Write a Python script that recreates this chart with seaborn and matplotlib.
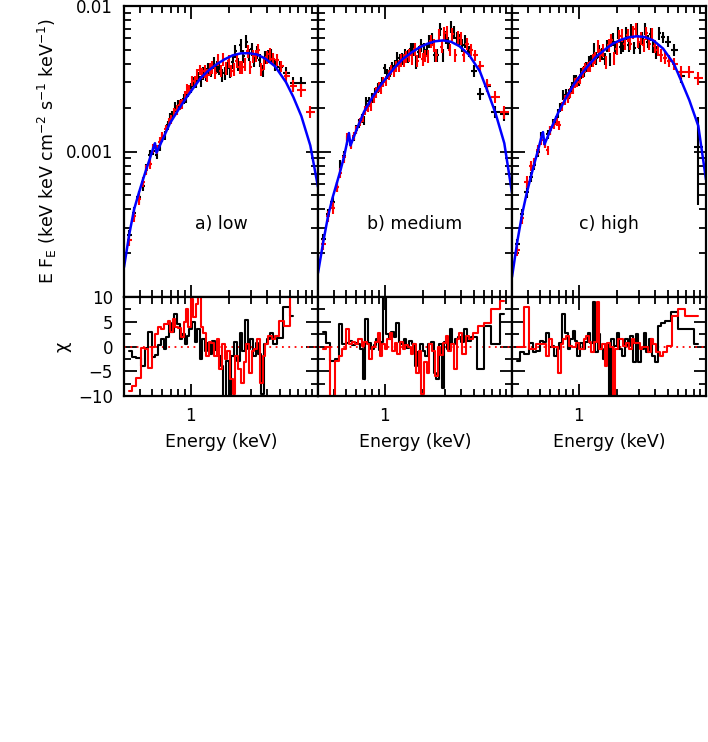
import numpy as np
import pandas as pd
import matplotlib
matplotlib.use("Agg")
import matplotlib.pyplot as plt
import seaborn as sns
from matplotlib.ticker import FixedLocator, NullFormatter

nan = np.nan

# channel energies (keV) of the black and red spectra
energy_black = [0.33, 0.36, 0.39, 0.42, 0.45, 0.48, 0.51, 0.54, 0.57, 0.60,
                0.63, 0.66, 0.69, 0.72, 0.76, 0.80, 0.84, 0.88, 0.92, 0.96,
                1.00, 1.05, 1.10, 1.15, 1.20, 1.26, 1.32, 1.38, 1.45, 1.52,
                1.60, 1.68, 1.76, 1.85, 1.94, 2.04, 2.14, 2.25, 2.36, 2.48,
                2.60, 2.73, 2.87, 3.01, 3.16, 3.32, 3.49, 3.67, 3.86, 4.06,
                4.30, 4.60, 5.00, 5.60, 6.40, 7.40, 8.70]
energy_red = [0.33, 0.36, 0.39, 0.42, 0.45, 0.48, 0.51, 0.54, 0.57, 0.60,
              0.645, 0.675, 0.705, 0.74, 0.78, 0.82, 0.86, 0.90, 0.94, 0.98,
              1.025, 1.075, 1.125, 1.175, 1.23, 1.29, 1.35, 1.415, 1.485, 1.56,
              1.64, 1.72, 1.805, 1.895, 1.99, 2.09, 2.195, 2.305, 2.42, 2.54,
              2.665, 2.80, 2.94, 3.085, 3.24, 3.405, 3.58, 3.765, 3.96, 4.18,
              4.45, 4.80, 5.15, 5.60, 6.40, 7.40, 8.70]

# relative 1-sigma error on E F_E
rel_err = [0.09, 0.09, 0.09, 0.08, 0.08, 0.08, 0.07, 0.07, 0.07, 0.07,
           0.07, 0.07, 0.07, 0.07, 0.08, 0.08, 0.08, 0.08, 0.08, 0.08,
           0.08, 0.08, 0.08, 0.08, 0.09, 0.10, 0.10, 0.10, 0.10, 0.10,
           0.10, 0.10, 0.10, 0.10, 0.10, 0.10, 0.10, 0.10, 0.10, 0.10,
           0.10, 0.10, 0.10, 0.10, 0.10, 0.10, 0.10, 0.10, 0.10, 0.10,
           0.10, 0.09, 0.09, 0.09, 0.10, 0.10, 0.10]

# E F_E in units of 1e-3 keV cm^-2 s^-1 keV^-1
flux_a_black = [0.265, 0.38, 0.49, 0.58, 0.76, 0.95, 1.01, 0.95, 1.09, 1.24,
                1.30, 1.51, 1.72, 1.77, 2.03, 2.10, 2.12, 2.31, 2.35, 2.56,
                2.75, 3.00, 2.96, 3.26, 3.04, 3.46, 3.41, 3.66, 3.61, 4.07,
                3.83, 3.70, 3.35, 3.45, 3.75, 3.55, 4.13, 4.88, 4.00, 5.40,
                4.53, 5.70, 4.62, 5.07, 4.20, 4.82, 4.23, 3.60, 4.45, 4.53,
                4.60, 3.95, 3.83, 3.47, 2.95, 2.96, nan]
flux_a_red = [0.245, 0.36, 0.47, 0.62, 0.75, 0.82, 1.05, 1.03, 1.17, 1.28,
              1.43, 1.60, 1.66, 1.85, 1.94, 2.08, 2.14, 2.42, 2.68, 2.65,
              3.06, 3.06, 3.39, 3.66, 3.46, 3.55, 3.35, 3.67, 3.78, 3.48,
              4.28, 3.60, 4.30, 3.75, 4.18, 3.60, 3.66, 4.18, 3.80, 3.78,
              4.00, 4.88, 3.80, 4.50, 4.55, 5.00, 3.66, 4.06, 4.45, 4.65,
              4.35, 4.27, 3.86, 3.30, 2.83, 2.65, 1.88]
flux_b_black = [0.25, 0.37, 0.45, 0.57, 0.81, 0.93, 1.20, 1.13, 1.26, 1.42,
                1.57, 1.68, 1.63, 2.22, 2.21, 2.33, 2.52, 2.73, 2.77, 3.03,
                3.72, 3.44, 3.55, 3.84, 3.93, 4.38, 4.23, 4.34, 4.58, 4.53,
                5.03, 5.03, 4.10, 4.85, 5.40, 5.10, 4.95, 5.72, 5.93, 4.60,
                4.60, 6.90, 4.60, 6.08, 5.59, 7.20, 6.60, 6.00, 5.83, 5.37,
                5.75, 4.90, 3.60, 2.50, 2.84, 1.88, 1.80]
flux_b_red = [0.23, 0.36, 0.41, 0.57, 0.71, 0.91, 1.26, 1.11, 1.28, 1.41,
              1.60, 1.71, 1.92, 2.01, 2.07, 2.35, 2.55, 2.80, 2.71, 3.00,
              3.07, 3.38, 3.64, 3.55, 3.84, 3.88, 4.23, 4.26, 4.48, 4.60,
              4.40, 5.03, 4.20, 4.90, 4.30, 4.55, 4.50, 5.72, 5.38, 4.60,
              6.30, 5.26, 6.50, 6.60, 5.00, 6.40, 4.60, 6.10, 6.00, 4.60,
              5.50, 5.00, 4.60, 3.85, 2.87, 2.38, 1.87]
flux_c_black = [0.23, 0.37, 0.53, 0.67, 0.81, 1.00, 1.28, 1.14, 1.32, 1.40,
                1.56, 1.64, 1.82, 2.01, 2.45, 2.48, 2.50, 2.78, 3.09, 3.12,
                3.08, 3.45, 3.56, 3.84, 4.15, 4.21, 5.09, 4.39, 4.89, 4.70,
                4.35, 5.33, 4.30, 5.93, 5.20, 6.55, 5.20, 5.37, 6.50, 5.40,
                6.85, 5.18, 6.97, 5.18, 6.00, 6.97, 5.70, 6.40, 5.25, 4.80,
                6.50, 6.10, 5.70, 5.00, 3.30, nan, 1.08]
flux_c_red = [0.21, 0.35, 0.62, 0.80, 0.84, 1.03, 1.20, 1.13, 1.02, 1.40,
              1.54, 1.60, 1.52, 2.04, 2.27, 2.36, 2.52, 2.69, 2.95, 3.02,
              3.17, 3.50, 3.74, 3.84, 3.84, 4.22, 4.41, 5.30, 4.61, 4.95,
              4.10, 5.40, 5.80, 4.40, 5.10, 6.20, 6.30, 5.50, 6.30, 5.50,
              6.60, 6.90, 5.70, 6.00, 5.40, 6.50, 5.50, 6.40, 5.30, 5.00,
              4.60, 4.40, 4.20, 4.00, 3.54, 3.54, 3.20]

# residuals (chi)
resid_a_black = [-1.0, -2.2, -2.4, -4.0, -0.3, 3.0, -2.2, -1.8, 0.4, 1.5,
                 -0.5, 2.0, 4.8, 3.0, 6.5, 4.5, 1.5, 2.5, 0.5, 2.2,
                 3.5, 5.0, 1.0, 3.5, -2.5, 1.5, -1.0, 0.8, -1.5, 1.2,
                 -0.8, -2.0, -4.0, -11.0, -3.0, -11.0, -2.0, 1.0, -3.0, 2.8,
                 -1.0, 5.4, -0.5, 1.5, -2.0, 0.8, -1.5, -9.5, 0.5, 1.5,
                 2.7, 0.5, 1.8, 7.9, 6.2, nan, nan]
resid_a_red = [-9.0, -8.0, -6.3, -0.4, -0.5, -4.4, -0.2, 2.5, 4.0, 3.5,
               4.5, 5.2, 3.0, 5.5, 4.0, 3.8, 2.0, 5.0, 7.5, 4.0,
               9.6, 6.0, 8.5, 11.0, 4.0, 2.8, -1.9, 1.0, 0.8, -2.0,
               1.5, -4.6, 0.5, -2.6, -1.0, -6.6, -9.6, -2.0, -4.6, -7.3,
               -3.2, 0.5, -5.3, -1.0, -0.5, 1.5, -7.3, -1.9, 0.5, 2.2,
               1.5, 2.2, 5.2, 4.2, 11.0, nan, nan]
resid_b_black = [3.0, 0.8, -2.9, -2.5, 4.5, 0.5, 0.8, 1.2, 0.3, 0.8,
                 0.5, -0.5, -6.6, 5.5, 0.8, -0.5, 0.3, 1.5, -0.8, 1.0,
                 11.0, 2.5, 1.5, 3.0, 2.0, 4.8, 1.0, 0.5, 1.5, -0.3,
                 1.2, 0.5, -3.9, -1.2, 0.5, -1.0, -1.9, 0.5, 1.0, -5.3,
                 -6.6, 0.5, -8.3, 1.0, -0.5, 3.5, 0.5, 1.5, 2.0, 1.0,
                 3.5, 1.2, 2.0, -4.6, 4.2, 0.5, 6.5]
resid_b_red = [-0.5, 0.0, -11.0, -2.9, -1.9, -0.5, 3.5, 0.5, 1.0, 0.5,
               1.5, 0.2, 1.0, 0.5, -2.6, 0.0, 1.0, 2.8, -1.9, 0.5,
               -0.5, 1.5, 2.8, -1.0, 0.8, -1.5, 1.0, -0.5, 0.3, 0.0,
               -1.5, 0.5, -5.3, -1.0, -9.5, -3.2, -5.3, 0.5, -1.0, -6.0,
               0.0, -1.8, 0.8, 2.2, -1.0, 0.5, -4.6, 1.5, 2.8, -1.5,
               2.2, 1.5, 2.8, 4.2, 4.8, 7.5, 9.2]
resid_c_black = [-2.9, -1.2, -1.5, 0.8, -1.2, -1.0, 1.1, 1.0, 2.8, 0.0,
                 0.2, -1.9, -0.5, 0.8, 6.5, 2.8, -0.5, 1.5, 3.2, 1.2,
                 -1.9, 0.8, -0.5, 1.0, 2.8, 0.8, 8.9, -1.2, 2.5, -0.5,
                 -2.6, 0.5, -11.0, 1.5, 0.2, 2.8, -0.5, -1.9, 1.5, 0.2,
                 2.2, -3.2, 2.5, -3.2, -0.5, 2.8, -1.2, 1.5, -1.9, -3.2,
                 4.2, 4.8, 5.2, 6.9, 3.5, 3.5, 0.5]
resid_c_red = [0.0, 0.0, 7.9, -0.5, -0.5, 0.5, 0.5, 0.5, -1.9, 1.5,
               -0.2, -0.2, -5.3, 0.5, 1.5, 2.2, 0.2, 0.0, -0.2, 0.8,
               -0.5, -0.5, 1.5, 2.2, 1.0, -1.2, 1.0, 8.9, -0.5, 0.5,
               -3.9, 0.8, 0.0, -11.0, -0.5, 1.5, 1.5, 0.2, 0.8, -0.5,
               1.5, 0.8, 0.8, -0.5, -0.2, -0.2, -1.2, 1.5, 0.5, -1.2,
               -1.9, -1.2, 0.2, 6.2, 7.5, 6.2, 6.2]

# best-fit model (blue), E F_E in 1e-3 units
model_energy = [0.30, 0.33, 0.36, 0.39, 0.42, 0.45, 0.48, 0.51, 0.525, 0.54,
                0.60, 0.69, 0.80, 0.92, 1.05, 1.20, 1.38, 1.60, 1.85, 2.14,
                2.48, 2.87, 3.32, 3.86, 4.60, 5.60, 6.40, 7.40, 8.70, 10.0]
model_a = [0.16, 0.27, 0.40, 0.51, 0.63, 0.76, 0.90, 1.06, 1.14, 0.98,
           1.20, 1.57, 1.93, 2.33, 2.73, 3.20, 3.60, 3.98, 4.30, 4.58,
           4.73, 4.74, 4.64, 4.35, 3.85, 3.00, 2.37, 1.75, 1.10, 0.57]
model_b = [0.146, 0.24, 0.36, 0.48, 0.60, 0.74, 0.92, 1.18, 1.34, 1.10,
           1.40, 1.88, 2.35, 2.82, 3.28, 3.78, 4.30, 4.75, 5.15, 5.48,
           5.72, 5.80, 5.68, 5.30, 4.62, 3.55, 2.62, 1.85, 1.14, 0.52]
model_c = [0.137, 0.24, 0.37, 0.51, 0.66, 0.83, 1.02, 1.25, 1.36, 1.12,
           1.40, 1.84, 2.35, 2.90, 3.40, 3.93, 4.50, 5.00, 5.50, 5.85,
           6.10, 6.19, 6.12, 5.80, 5.10, 4.00, 3.05, 2.25, 1.50, 0.64]

panel_names = ["a) low", "b) medium", "c) high"]
flux_black = [flux_a_black, flux_b_black, flux_c_black]
flux_red = [flux_a_red, flux_b_red, flux_c_red]
resid_black = [resid_a_black, resid_b_black, resid_c_black]
resid_red = [resid_a_red, resid_b_red, resid_c_red]
models = [model_a, model_b, model_c]

sns.set_style("ticks")
plt.rcParams["font.family"] = ["DejaVu Sans"]
plt.rcParams["mathtext.default"] = "regular"
plt.rcParams["axes.linewidth"] = 1.6
for key in ["text.color", "axes.labelcolor", "axes.edgecolor",
            "xtick.color", "ytick.color"]:
    plt.rcParams[key] = "black"

fig = plt.figure(figsize=(7.08, 7.42), dpi=100)


def bin_halfwidths(e):
    # channel edges half way (in log) between neighbouring channels
    e = np.array(e)
    mid = np.sqrt(e[:-1] * e[1:])
    lo = np.concatenate([[e[0] ** 2 / mid[0]], mid])
    hi = np.concatenate([mid, [e[-1] ** 2 / mid[-1]]])
    return [e - lo, hi - e]


Eb = np.array(energy_black)
Er = np.array(energy_red)
xerr_b = bin_halfwidths(Eb)
xerr_r = bin_halfwidths(Er)

xminor = [0.3, 0.4, 0.5, 0.6, 0.7, 0.8, 0.9, 2, 3, 4, 5, 6, 7, 8, 9]
yminor = [k * 1e-4 for k in range(2, 10)] + [k * 1e-3 for k in range(2, 10)]

W, H = 708.0, 742.0
for i in range(3):
    left = (124 + 194 * i) / W
    ax = fig.add_axes([left, (H - 297) / H, 194 / W, 291 / H])
    axr = fig.add_axes([left, (H - 396) / H, 194 / W, 99 / H])

    fb = np.array(flux_black[i]) * 1e-3
    fr = np.array(flux_red[i]) * 1e-3
    eb = fb * np.array(rel_err)
    if i == 2:
        eb[-1] = fb[-1] * 0.6
    er = fr * np.array(rel_err)

    ax.set_xscale("log")
    ax.set_yscale("log")
    ax.errorbar(Eb, fb, xerr=xerr_b, yerr=eb, fmt="none", ecolor="black",
                elinewidth=1.5, capsize=0)
    ax.errorbar(Er, fr, xerr=xerr_r, yerr=er, fmt="none", ecolor="red",
                elinewidth=1.5, capsize=0)
    mdf = pd.DataFrame({"E": model_energy, "F": np.array(models[i]) * 1e-3})
    sns.lineplot(data=mdf, x="E", y="F", ax=ax, color="blue", lw=1.8)
    ax.set_xlim(0.3, 10)
    ax.set_ylim(1e-4, 1e-2)
    ax.text(0.5, 0.25, panel_names[i], transform=ax.transAxes,
            ha="center", va="center", fontsize=12.5)

    # residuals
    axr.set_xscale("log")
    axr.axhline(0, color="red", ls=(0, (1, 2.5)), lw=1.3)
    bdf = pd.DataFrame({"E": energy_black, "chi": resid_black[i]})
    rdf = pd.DataFrame({"E": energy_red, "chi": resid_red[i]})
    sns.lineplot(data=bdf, x="E", y="chi", ax=axr, color="black", lw=1.5,
                 drawstyle="steps-mid")
    sns.lineplot(data=rdf, x="E", y="chi", ax=axr, color="red", lw=1.5,
                 drawstyle="steps-mid")
    axr.set_xlim(0.3, 10)
    axr.set_ylim(-10, 10)

    for a in (ax, axr):
        a.set_xlabel("")
        a.set_ylabel("")
        a.xaxis.set_major_locator(FixedLocator([1, 10]))
        a.xaxis.set_minor_locator(FixedLocator(xminor))
        a.xaxis.set_minor_formatter(NullFormatter())
        a.tick_params(which="both", direction="in", top=True, right=True,
                      width=1.3, labelsize=12, pad=8)
        a.tick_params(which="major", length=9)
        a.tick_params(which="minor", length=5)

    ax.set_xticklabels(["", ""])
    axr.set_xticklabels(["1", ""])
    ax.yaxis.set_major_locator(FixedLocator([1e-4, 1e-3, 1e-2]))
    ax.yaxis.set_minor_locator(FixedLocator(yminor))
    ax.yaxis.set_minor_formatter(NullFormatter())
    ax.set_yticklabels(["", "0.001", "0.01"])
    axr.yaxis.set_major_locator(FixedLocator([-10, -5, 0, 5, 10]))
    axr.yaxis.set_minor_locator(FixedLocator([-7.5, -2.5, 2.5, 7.5]))
    axr.set_yticklabels(["\u221210", "\u22125", "0", "5", "10"])
    if i > 0:
        ax.tick_params(labelleft=False)
        axr.tick_params(labelleft=False)
    axr.set_xlabel("Energy (keV)", fontsize=12.5, labelpad=6)

fig.text(47 / W, (H - 151) / H,
         "E F$_E$ (keV keV cm$^{-2}$ s$^{-1}$ keV$^{-1}$)",
         rotation=90, ha="center", va="center", fontsize=12.5)
fig.text(62 / W, (H - 347) / H, "\u03c7", rotation=90,
         ha="center", va="center", fontsize=13)

fig.savefig("out.png", dpi=100)
